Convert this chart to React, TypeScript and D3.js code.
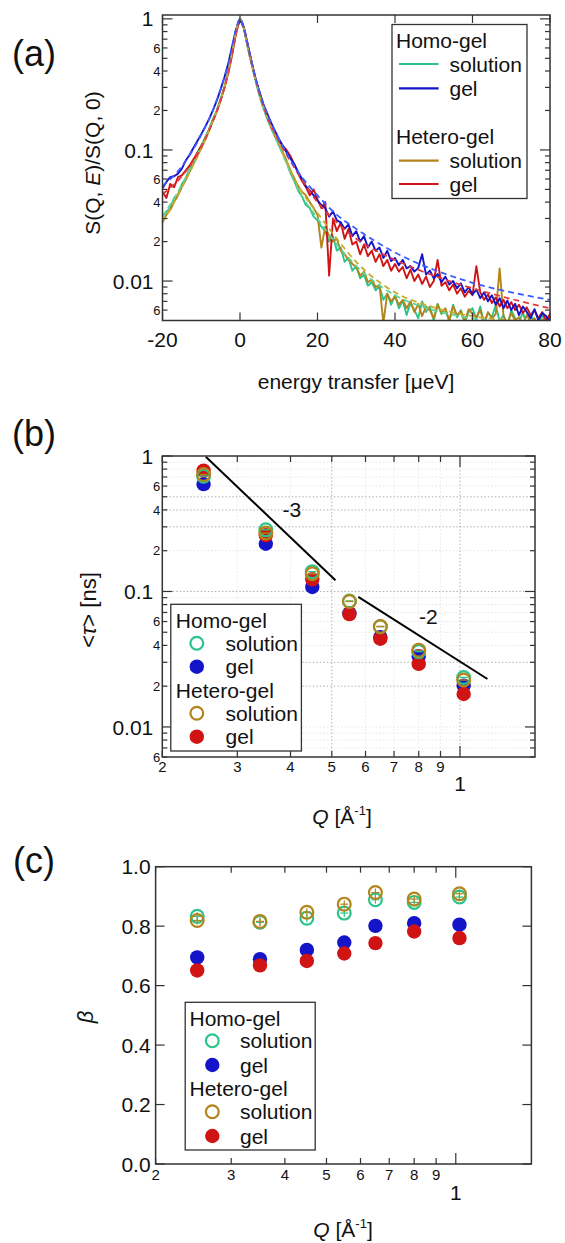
import React from "react";
import * as d3 from "d3";

// ---------------- Panel (a) data ----------------
const energyE = [-20,-19,-18,-17,-16,-15,-14,-13,-12,-11,-10,-9,-8,-7,-6,-5,-4,-3,-2,-1,0,1,2,3,4,5,6,7,8,9,10,11,12,13,14,15,16,17,18,19,20,21,22,23,24,25,26,27,28,29,30,31,32,33,34,35,36,37,38,39,40,41,42,43,44,45,46,47,48,49,50,51,52,53,54,55,56,57,58,59,60,61,62,63,64,65,66,67,68,69,70,71,72,73,74,75,76,77,78,79,80];

const homoSolutionA = [
  .031,.034,.036,.043,.046,.055,.061,.072,.080,.095,.106,.124,.143,.172,.199,.247,.30,.40,.56,.80,
  1.0,
  .84,.60,.45,.34,.26,.21,.174,.148,.127,.109,.094,.081,.067,.058,.049,.044,.038,.036,.031,.029,
  .026,.024,.020,.022,.017,.018,.014,.015,.012,.013,.0105,.0112,.0092,.0098,.0085,.0091,.0072,.0080,.0066,.0078,
  .0062,.0071,.0055,.0068,.0060,.0052,.0070,.0058,.0064,.0050,.0067,.0056,.0061,.0049,.0066,.0053,.0060,.0048,.0058,.0062,
  .0051,.0064,.0047,.0057,.0053,.0066,.0049,.0055,.0046,.0060,.0052,.0048,.0058,.0045,.0054,.0050,.0047,.0056,.0044,.0052,
];
const homoGelA = [
  .051,.057,.062,.063,.066,.072,.083,.092,.104,.117,.132,.150,.172,.200,.238,.29,.36,.46,.62,.84,
  1.0,
  .86,.64,.47,.35,.28,.225,.19,.162,.14,.122,.108,.096,.086,.078,.068,.060,.053,.049,.045,.041,
  .038,.036,.031,.034,.029,.028,.025,.027,.022,.024,.020,.022,.018,.020,.017,.018,.015,.017,.0142,.0150,
  .0132,.0145,.0125,.0130,.0118,.0126,.0160,.0112,.0120,.0105,.0113,.0098,.0108,.0094,.0100,.0088,.0096,.0082,.0090,.0079,
  .0086,.0074,.0082,.0070,.0078,.0066,.0074,.0062,.0071,.0060,.0067,.0055,.0064,.0058,.0052,.0061,.0050,.0057,.0054,.0049,
];
const heteroSolutionA = [
  .028,.032,.035,.040,.045,.052,.059,.068,.078,.090,.103,.119,.140,.167,.197,.24,.30,.40,.56,.80,
  1.0,
  .86,.62,.46,.35,.27,.215,.18,.152,.13,.112,.097,.083,.070,.061,.053,.048,.045,.040,.036,.032,
  .018,.026,.022,.020,.021,.017,.016,.0145,.0135,.0128,.0110,.0118,.0098,.0102,.0090,.0093,.0048,.0080,.0070,.0076,
  .0066,.0072,.0062,.0070,.0058,.0067,.0054,.0064,.0060,.0052,.0066,.0057,.0062,.0050,.0064,.0055,.0059,.0049,.0061,.0056,
  .0053,.0060,.0048,.0058,.0052,.0056,.0125,.0054,.0047,.0057,.0050,.0053,.0046,.0055,.0049,.0052,.0045,.0051,.0048,.0050,
];
const heteroGelA = [
  .048,.043,.055,.052,.062,.064,.070,.076,.085,.095,.108,.122,.142,.168,.197,.24,.30,.39,.54,.78,
  1.0,
  .85,.62,.46,.35,.27,.22,.18,.15,.128,.118,.108,.100,.090,.078,.066,.058,.052,.045,.050,.042,
  .036,.040,.011,.030,.024,.028,.021,.025,.019,.020,.016,.019,.0155,.0170,.0140,.0160,.0130,.0145,.0120,.0135,
  .0118,.0128,.0105,.0122,.0100,.0112,.0095,.0108,.0090,.0100,.0145,.0092,.0098,.0085,.0094,.0080,.0088,.0076,.0084,.0078,
  .0130,.0082,.0072,.0079,.0068,.0075,.0064,.0072,.0062,.0069,.0060,.0066,.0057,.0063,.0055,.0060,.0052,.0058,.0050,.0056,
];

const fitE = [-20,-15,-10,-7,-5,-3,-2,-1,0,1,2,3,5,7,10,15,20,25,30,40,50,60,70,80];
const fitHomoGel = [.053,.075,.13,.2,.29,.46,.62,.84,1.0,.86,.64,.47,.28,.19,.122,.068,.045,.032,.025,.0165,.0122,.0097,.0082,.0072];
const fitHeteroGel = [.046,.063,.105,.165,.24,.39,.54,.78,1.0,.85,.62,.46,.27,.18,.118,.066,.04,.028,.021,.0145,.011,.0088,.0073,.0062];
const fitHeteroSol = [.028,.052,.103,.167,.24,.40,.56,.80,1.0,.86,.62,.46,.27,.18,.112,.053,.033,.021,.014,.0082,.0063,.0054,.005,.0048];
const fitHomoSol = [.031,.054,.107,.17,.245,.40,.56,.80,1.0,.84,.60,.45,.26,.174,.109,.05,.03,.019,.013,.0078,.006,.0052,.0048,.0046];

// ---------------- Panel (b) / (c) data ----------------
const qValues = [0.25, 0.35, 0.45, 0.55, 0.65, 0.8, 1.02];
const tauHomoSol = [0.71, 0.285, 0.14, 0.085, 0.055, 0.036, 0.0232];
const tauHomoGel = [0.62, 0.225, 0.108, 0.069, 0.046, 0.0333, 0.0202];
const tauHeteroSol = [0.73, 0.27, 0.135, 0.0844, 0.0552, 0.0369, 0.0222];
const tauHeteroGel = [0.78, 0.26, 0.123, 0.0681, 0.0448, 0.0292, 0.0175];

const guide3Q = [0.253, 0.51];
const guide3Tau = [0.988, 0.121];
const guide2Q = [0.577, 1.16];
const guide2Tau = [0.0912, 0.0226];
const guideLabels = ["-3", "-2"];
const guideLabelQ = [0.403, 0.843];
const guideLabelTau = [0.4, 0.065];

const betaHomoSol = [0.833, 0.813, 0.827, 0.844, 0.889, 0.88, 0.898];
const betaHomoGel = [0.695, 0.689, 0.72, 0.745, 0.801, 0.81, 0.805];
const betaHeteroSol = [0.819, 0.816, 0.847, 0.874, 0.913, 0.891, 0.909];
const betaHeteroGel = [0.651, 0.668, 0.683, 0.708, 0.743, 0.782, 0.76];

// ---------------- ticks ----------------
const energyTicks = [-20, 0, 20, 40, 60, 80];
const logMajorTicks = [0.01, 0.1, 1];
const logMajorLabels = ["0.01", "0.1", "1"];
const logMinorTicks = [0.006,0.007,0.008,0.009,0.02,0.03,0.04,0.05,0.06,0.07,0.08,0.09,0.2,0.3,0.4,0.5,0.6,0.7,0.8,0.9];
const logMinorLabelValues = [0.006, 0.02, 0.04, 0.06, 0.2, 0.4, 0.6];
const logMinorLabelTexts = ["6", "2", "4", "6", "2", "4", "6"];
const qMinorTicks = [0.2, 0.3, 0.4, 0.5, 0.6, 0.7, 0.8, 0.9];
const qMinorLabels = ["2", "3", "4", "5", "6", "7", "8", "9"];
const qMajorTicks = [1];
const qMajorLabels = ["1"];
const betaTicks = [0, 0.2, 0.4, 0.6, 0.8, 1.0];
const betaLabels = ["0.0", "0.2", "0.4", "0.6", "0.8", "1.0"];
const tauGridStrong = [0.02, 0.03, 0.1, 0.3, 0.4, 0.5];
const qGridStrong = [0.5, 1];

const groupNames = ["Homo-gel", "Hetero-gel"];
const sampleNames = ["solution", "gel"];

// ---------------- style ----------------
const FONT = "'Liberation Sans', Arial, Helvetica, sans-serif";
const FRAME = "#333";
const COL = { homoSol: "#2cc48a", homoGel: "#1414c8", heteroSol: "#b3841c", heteroGel: "#d01414" };
const FITCOL = { homoSol: "#5cd49a", homoGel: "#3a5cff", heteroSol: "#c9ad2a", heteroGel: "#e43a3a" };

function LogYAxis({ y, L, R }: any) {
  return (
    <g>
      <g stroke={FRAME} strokeWidth={1.2}>
        {logMajorTicks.map((v) => (
          <g key={v}>
            <line x1={L} x2={L + 10} y1={y(v)} y2={y(v)} />
            <line x1={R} x2={R - 10} y1={y(v)} y2={y(v)} />
          </g>
        ))}
        {logMinorTicks.map((v) => (
          <g key={v}>
            <line x1={L} x2={L + 5} y1={y(v)} y2={y(v)} />
            <line x1={R} x2={R - 5} y1={y(v)} y2={y(v)} />
          </g>
        ))}
      </g>
      {logMajorTicks.map((v, i) => (
        <text key={v} x={L - 9} y={y(v)} dy="0.36em" fontSize={21} textAnchor="end">{logMajorLabels[i]}</text>
      ))}
      {logMinorLabelValues.map((v, i) => (
        <text key={v} x={L - 2} y={y(v)} dy="0.36em" fontSize={13} textAnchor="end">{logMinorLabelTexts[i]}</text>
      ))}
    </g>
  );
}

function QXAxis({ x, T, B, digitY, oneY }: any) {
  return (
    <g>
      <g stroke={FRAME} strokeWidth={1.2}>
        {qMinorTicks.map((v) => (
          <g key={v}>
            <line x1={x(v)} x2={x(v)} y1={B} y2={B - 6} />
            <line x1={x(v)} x2={x(v)} y1={T} y2={T + 6} />
          </g>
        ))}
        {qMajorTicks.map((v) => (
          <g key={v}>
            <line x1={x(v)} x2={x(v)} y1={B} y2={B - 11} />
            <line x1={x(v)} x2={x(v)} y1={T} y2={T + 11} />
          </g>
        ))}
      </g>
      {qMinorTicks.map((v, i) => (
        <text key={v} x={x(v)} y={digitY} fontSize={15} textAnchor="middle">{qMinorLabels[i]}</text>
      ))}
      {qMajorTicks.map((v, i) => (
        <text key={v} x={x(v)} y={oneY} fontSize={21} textAnchor="middle">{qMajorLabels[i]}</text>
      ))}
    </g>
  );
}

function QTitle({ cx, y }: any) {
  return (
    <text x={cx} y={y} fontSize={21} textAnchor="middle">
      <tspan fontStyle="italic">Q</tspan>
      <tspan> [Å</tspan>
      <tspan fontSize={13} dy={-9}>-1</tspan>
      <tspan dy={9}>]</tspan>
    </text>
  );
}

function Marker({ cx, cy, color, open, bar }: any) {
  if (open) {
    return (
      <g>
        <circle cx={cx} cy={cy} r={6.4} fill="none" stroke={color} strokeWidth={2.2} />
        {bar === "h" && <line x1={cx - 4} x2={cx + 4} y1={cy} y2={cy} stroke={color} strokeWidth={1.4} />}
        {bar === "plus" && (
          <g stroke={color} strokeWidth={1.2}>
            <line x1={cx - 4} x2={cx + 4} y1={cy} y2={cy} />
            <line x1={cx} x2={cx} y1={cy - 4} y2={cy + 4} />
          </g>
        )}
      </g>
    );
  }
  return <circle cx={cx} cy={cy} r={7.2} fill={color} />;
}

function MarkerLegend({ box, rows, headX, markerX, textX }: any) {
  const entries = [
    { head: groupNames[0] },
    { color: COL.homoSol, open: true, label: sampleNames[0] },
    { color: COL.homoGel, open: false, label: sampleNames[1] },
    { head: groupNames[1] },
    { color: COL.heteroSol, open: true, label: sampleNames[0] },
    { color: COL.heteroGel, open: false, label: sampleNames[1] },
  ];
  return (
    <g>
      <rect x={box[0]} y={box[1]} width={box[2] - box[0]} height={box[3] - box[1]} fill="#fff" stroke={FRAME} strokeWidth={1.3} />
      {entries.map((e: any, i) =>
        e.head ? (
          <text key={i} x={headX} y={rows[i]} dy="0.36em" fontSize={21}>{e.head}</text>
        ) : (
          <g key={i}>
            <Marker cx={markerX} cy={rows[i]} color={e.color} open={e.open} />
            <text x={textX} y={rows[i]} dy="0.36em" fontSize={21}>{e.label}</text>
          </g>
        )
      )}
    </g>
  );
}

function PanelA() {
  const L = 162.5, R = 550, T = 15, B = 320.5;
  const x = d3.scaleLinear().domain([-20, 80]).range([L, R]);
  const y = d3.scaleLog().domain([0.005, 1.07]).range([B, T]);
  const raw = d3.line<number>().x((_, i) => x(energyE[i])).y((d) => y(d));
  const fit = d3.line<number>().x((_, i) => x(fitE[i])).y((d) => y(d)).curve(d3.curveMonotoneX);
  const series = [
    { k: "hs", v: homoSolutionA, c: COL.homoSol },
    { k: "es", v: heteroSolutionA, c: COL.heteroSol },
    { k: "eg", v: heteroGelA, c: COL.heteroGel },
    { k: "hg", v: homoGelA, c: COL.homoGel },
  ];
  const fits = [
    { k: "fhs", v: fitHomoSol, c: FITCOL.homoSol },
    { k: "fes", v: fitHeteroSol, c: FITCOL.heteroSol },
    { k: "feg", v: fitHeteroGel, c: FITCOL.heteroGel },
    { k: "fhg", v: fitHomoGel, c: FITCOL.homoGel },
  ];
  const legendRows = [40.7, 64, 88.3, 136.7, 160.7, 184];
  const legendEntries = [
    { head: groupNames[0] },
    { c: COL.homoSol, label: sampleNames[0] },
    { c: COL.homoGel, label: sampleNames[1] },
    { head: groupNames[1] },
    { c: COL.heteroSol, label: sampleNames[0] },
    { c: COL.heteroGel, label: sampleNames[1] },
  ];
  return (
    <g>
      <text x={34} y={66} fontSize={36} textAnchor="middle">(a)</text>
      <defs>
        <clipPath id="clipA"><rect x={L} y={T} width={R - L} height={B - T} /></clipPath>
      </defs>
      <g clipPath="url(#clipA)" fill="none" strokeLinejoin="round">
        {series.map((s) => (
          <path key={s.k} d={raw(s.v) as string} stroke={s.c} strokeWidth={1.9} />
        ))}
        {fits.map((s) => (
          <path key={s.k} d={fit(s.v) as string} stroke={s.c} strokeWidth={1.8} strokeDasharray="6,4" />
        ))}
      </g>
      <rect x={L} y={T} width={R - L} height={B - T} fill="none" stroke={FRAME} strokeWidth={1.5} />
      <g stroke={FRAME} strokeWidth={1.2}>
        {energyTicks.map((t) => (
          <g key={t}>
            <line x1={x(t)} x2={x(t)} y1={B} y2={B - 8} />
            <line x1={x(t)} x2={x(t)} y1={T} y2={T + 8} />
          </g>
        ))}
      </g>
      {energyTicks.map((t) => (
        <text key={t} x={x(t)} y={B + 26} fontSize={21} textAnchor="middle">{String(t)}</text>
      ))}
      <LogYAxis y={y} L={L} R={R} />
      <text x={356} y={389} fontSize={21} textAnchor="middle">energy transfer [μeV]</text>
      <text transform="translate(100,163) rotate(-90)" fontSize={21} textAnchor="middle">
        S(Q, <tspan fontStyle="italic">E</tspan>)/S(Q, 0)
      </text>
      <rect x={392} y={24.5} width={135} height={174} fill="#fff" stroke={FRAME} strokeWidth={1.3} />
      {legendEntries.map((e: any, i) =>
        e.head ? (
          <text key={i} x={396} y={legendRows[i]} dy="0.36em" fontSize={21}>{e.head}</text>
        ) : (
          <g key={i}>
            <line x1={399} x2={438.6} y1={legendRows[i]} y2={legendRows[i]} stroke={e.c} strokeWidth={2.2} />
            <text x={449.5} y={legendRows[i]} dy="0.36em" fontSize={21}>{e.label}</text>
          </g>
        )
      )}
    </g>
  );
}

function PanelB() {
  const L = 162.3, R = 535, T = 456, B = 757;
  const x = d3.scaleLog().domain([0.2, 1.5]).range([L, R]);
  const y = d3.scaleLog().domain([0.006, 1]).range([B, T]);
  const gLine = (qs: number[], ts: number[]) =>
    d3.line<number>().x((d) => x(d)).y((_, i) => y(ts[i]))(qs) as string;
  const allY = [...logMinorTicks, ...logMajorTicks].filter((v) => y(v) > T + 1 && y(v) < B - 1);
  const allX = [...qMinorTicks, ...qMajorTicks].filter((v) => x(v) > L + 1);
  const pts = [
    { k: "hg", v: tauHomoGel, c: COL.homoGel, open: false },
    { k: "eg", v: tauHeteroGel, c: COL.heteroGel, open: false },
    { k: "hs", v: tauHomoSol, c: COL.homoSol, open: true },
    { k: "es", v: tauHeteroSol, c: COL.heteroSol, open: true },
  ];
  return (
    <g>
      <text x={34} y={446} fontSize={36} textAnchor="middle">(b)</text>
      <g fill="none" strokeWidth={0.9} strokeDasharray="1.5,2">
        {allY.map((v) => (
          <line key={"gy" + v} x1={L} x2={R} y1={y(v)} y2={y(v)}
            stroke={tauGridStrong.includes(v) ? "#a8a8a8" : "#e2e2e2"} />
        ))}
        {allX.map((v) => (
          <line key={"gx" + v} x1={x(v)} x2={x(v)} y1={T} y2={B}
            stroke={qGridStrong.includes(v) ? "#a8a8a8" : "#e6e6e6"} />
        ))}
      </g>
      <path d={gLine(guide3Q, guide3Tau)} stroke="#000" strokeWidth={2} fill="none" />
      <path d={gLine(guide2Q, guide2Tau)} stroke="#000" strokeWidth={2} fill="none" />
      {guideLabels.map((t, i) => (
        <text key={t} x={x(guideLabelQ[i])} y={y(guideLabelTau[i])} dy="0.36em" fontSize={21} textAnchor="middle">{t}</text>
      ))}
      {pts.map((s) => (
        <g key={s.k}>
          {qValues.map((q, i) => (
            <Marker key={i} cx={x(q)} cy={y(s.v[i])} color={s.c} open={s.open} bar="h" />
          ))}
        </g>
      ))}
      <rect x={L} y={T} width={R - L} height={B - T} fill="none" stroke={FRAME} strokeWidth={1.5} />
      <LogYAxis y={y} L={L} R={R} />
      <QXAxis x={x} T={T} B={B} digitY={772} oneY={791} />
      <MarkerLegend box={[170.8, 604.3, 301.4, 751]} rows={[620, 643.3, 666.7, 690, 713.3, 736.7]}
        headX={175.8} markerX={196.8} textX={225.6} />
      <QTitle cx={342} y={824} />
      <text transform="translate(96,610) rotate(-90)" fontSize={22} textAnchor="middle">
        &lt;<tspan fontStyle="italic">τ</tspan>&gt; [ns]
      </text>
    </g>
  );
}

function PanelC() {
  const L = 155.6, R = 531.4, T = 866.7, B = 1164;
  const x = d3.scaleLog().domain([0.2, 1.5]).range([L, R]);
  const y = d3.scaleLinear().domain([0, 1]).range([B, T]);
  const pts = [
    { k: "hg", v: betaHomoGel, c: COL.homoGel, open: false },
    { k: "eg", v: betaHeteroGel, c: COL.heteroGel, open: false },
    { k: "hs", v: betaHomoSol, c: COL.homoSol, open: true },
    { k: "es", v: betaHeteroSol, c: COL.heteroSol, open: true },
  ];
  return (
    <g>
      <text x={34} y={873} fontSize={36} textAnchor="middle">(c)</text>
      {pts.map((s) => (
        <g key={s.k}>
          {qValues.map((q, i) => (
            <Marker key={i} cx={x(q)} cy={y(s.v[i])} color={s.c} open={s.open} bar="plus" />
          ))}
        </g>
      ))}
      <rect x={L} y={T} width={R - L} height={B - T} fill="none" stroke={FRAME} strokeWidth={1.5} />
      <g stroke={FRAME} strokeWidth={1.2}>
        {betaTicks.map((v) => (
          <g key={v}>
            <line x1={L} x2={L + 9} y1={y(v)} y2={y(v)} />
            <line x1={R} x2={R - 9} y1={y(v)} y2={y(v)} />
          </g>
        ))}
      </g>
      {betaTicks.map((v, i) => (
        <text key={v} x={L - 5} y={y(v)} dy="0.36em" fontSize={21} textAnchor="end">{betaLabels[i]}</text>
      ))}
      <QXAxis x={x} T={T} B={B} digitY={1180} oneY={1200} />
      <MarkerLegend box={[185.2, 1002.3, 315.2, 1150]} rows={[1018.3, 1040.7, 1065, 1088.3, 1111.7, 1136]}
        headX={189.5} markerX={212.3} textX={240} />
      <QTitle cx={343} y={1237} />
      <text transform="translate(93,1017) rotate(-90)" fontSize={22} fontStyle="italic" textAnchor="middle">β</text>
    </g>
  );
}

export default function App() {
  return (
    <svg width={565} height={1243} viewBox="0 0 565 1243"
      style={{ position: "absolute", left: 0, top: 0, background: "#fff", display: "block" }}
      fontFamily={FONT} fill="#111">
      <rect width={565} height={1243} fill="#fff" />
      <PanelA />
      <PanelB />
      <PanelC />
    </svg>
  );
}
